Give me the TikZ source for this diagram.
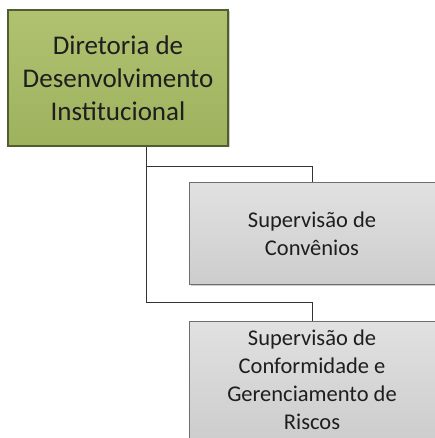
\documentclass[tikz,border=0pt]{standalone}
\usepackage{fontspec}
\setmainfont{Carlito}
\usetikzlibrary{shadows}
\definecolor{boxgreen}{RGB}{158,178,94}
\definecolor{boxgreenlight}{RGB}{176,194,112}
\definecolor{greenedge}{RGB}{80,94,48}
\definecolor{boxgray}{RGB}{205,205,205}
\definecolor{boxgraylight}{RGB}{225,225,225}
\definecolor{grayedge}{RGB}{110,110,110}
\definecolor{txt}{RGB}{30,30,30}
\tikzset{
  headbox/.style={draw=greenedge, line width=1.2pt, top color=boxgreenlight, bottom color=boxgreen,
    drop shadow={shadow xshift=1.5pt, shadow yshift=-1.5pt, opacity=0.4},
    text=txt, align=center, font=\fontsize{27}{33}\selectfont, inner sep=0pt},
  subbox/.style={draw=grayedge, line width=1pt, top color=boxgraylight, bottom color=boxgray,
    drop shadow={shadow xshift=1.5pt, shadow yshift=-1.5pt, opacity=0.4},
    text=txt, align=center, font=\fontsize{22.5}{28}\selectfont, inner sep=0pt},
  link/.style={draw=black!80, line width=0.9pt}
}
\begin{document}
\begin{tikzpicture}[x=1pt,y=-1pt]
\useasboundingbox (0,0) rectangle (434,438);
\fill[white] (0,0) rectangle (434,438);
\node[headbox, minimum width=220pt, minimum height=136pt] (dir) at (118,78)
  {Diretoria de\\Desenvolvimento\\Institucional};
\node[subbox, minimum width=246pt, minimum height=102pt] (conv) at (312,233.5)
  {Supervisão de\\Convênios};
\node[subbox, minimum width=246pt, minimum height=118pt] (conf) at (312,380)
  {Supervisão de\\Conformidade e\\Gerenciamento de\\Riscos};
\coordinate (j1) at (146,166);
\coordinate (j2) at (146,302);
\draw[link] (dir.south -| j1) -- (j2) -- (j2 -| conf.north) -- (conf.north);
\draw[link] (j1) -- (j1 -| conv.north) -- (conv.north);
\end{tikzpicture}
\end{document}
